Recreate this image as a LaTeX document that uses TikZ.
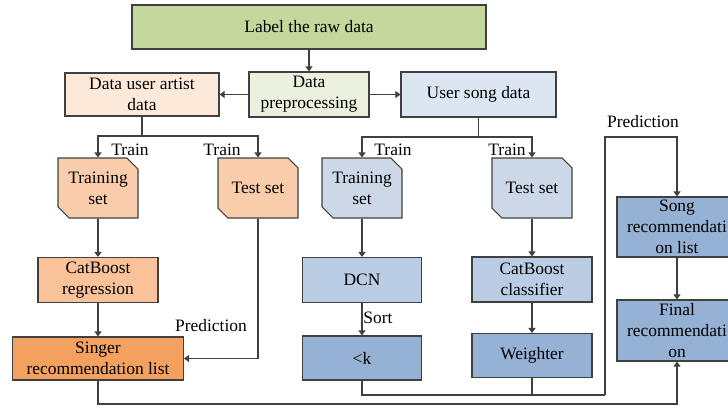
\documentclass[tikz,border=0pt]{standalone}
\usepackage{fontspec}
\setmainfont{Liberation Serif}
\newfontfamily\flowfont{Liberation Serif}
\usepackage{xcolor}
\usetikzlibrary{arrows.meta, positioning, shapes.misc, calc}
\definecolor{rawgreen}{HTML}{C4D79C}
\definecolor{prepgreen}{HTML}{EBF1DE}
\definecolor{artistpeach}{HTML}{FDE9D9}
\definecolor{setpeach}{HTML}{F9CDAB}
\definecolor{regorange}{HTML}{F9C298}
\definecolor{singerorange}{HTML}{F4A15F}
\definecolor{songpale}{HTML}{DCE6F2}
\definecolor{setblue}{HTML}{CCD8E8}
\definecolor{dcnblue}{HTML}{BACDE5}
\definecolor{darkblue}{HTML}{95B1D4}
\definecolor{edgegray}{HTML}{404040}

\begin{document}
\begin{tikzpicture}[x=1bp, y=-1bp,
          every node/.style={font=\flowfont\fontsize{17.5}{21}\selectfont},
          box/.style={draw=edgegray, line width=1.1bp, align=center,
                      inner sep=1bp},
          setbox/.style={box, chamfered rectangle,
                         chamfered rectangle corners={north east, south west},
                         chamfered rectangle xsep=8bp,
                         minimum width=80bp, minimum height=60bp},
          lbl/.style={inner sep=1bp},
          arr/.style={-{Triangle[length=5bp, width=7bp]}, line width=1.1bp, draw=edgegray},
          ln/.style={line width=1.1bp, draw=edgegray},
        ]
        \useasboundingbox (0,0) rectangle (728,407);

        % top of the flow
        \node[box, fill=rawgreen, minimum width=354bp, minimum height=44bp]
              (raw) at (309,27) {Label the raw data};
        \node[box, fill=prepgreen, minimum width=120bp, minimum height=45bp]
              (prep) at (309,94.5) {Data\\preprocessing};
        \node[box, fill=artistpeach, minimum width=154bp, minimum height=43bp]
              (artist) at (142,94.5) {Data user artist\\data};
        \node[box, fill=songpale, minimum width=155bp, minimum height=45bp]
              (song) at (478.5,94.5) {User song data};

        % singer side
        \node[setbox, fill=setpeach] (trainL) at (98,188) {Training\\set};
        \node[setbox, fill=setpeach] (testL) at (258,188) {Test set};
        \node[box, fill=regorange, minimum width=120bp, minimum height=45bp]
              (reg) at (98,280) {CatBoost\\regression};
        \node[box, fill=singerorange, minimum width=171bp, minimum height=43bp]
              (singer) at (98,358.5) {Singer\\recommendation list};

        % song side
        \node[setbox, fill=setblue] (trainR) at (362,188) {Training\\set};
        \node[setbox, fill=setblue] (testR) at (532,188) {Test set};
        \node[box, fill=dcnblue, minimum width=119bp, minimum height=45bp]
              (dcn) at (362,280) {DCN};
        \node[box, fill=darkblue, minimum width=119bp, minimum height=44bp]
              (lessk) at (362,358) {<k};
        \node[box, fill=dcnblue, minimum width=120bp, minimum height=45bp]
              (cls) at (532,279.5) {CatBoost\\classifier};
        \node[box, fill=darkblue, minimum width=120bp, minimum height=44bp]
              (wgt) at (532,355.5) {Weighter};

        % final column
        \node[box, fill=darkblue, minimum width=120bp, minimum height=60bp]
              (songrec) at (677,227) {Song\\recommendati\\on list};
        \node[box, fill=darkblue, minimum width=120bp, minimum height=61bp]
              (final) at (677,330.5) {Final\\recommendati\\on};

        \coordinate (forkL) at (142,136);
        \coordinate (forkR) at (478.5,137);
        \coordinate (joinR) at (605,395);
        \coordinate (predTop) at (605,137);
        \coordinate (bottomL) at (98,404);

        \draw[arr] (raw.south) -- (prep.north);
        \draw[arr] (prep.west) -- (artist.east);
        \draw[arr] (prep.east) -- (song.west);

        \draw[ln] (artist.south) -- (forkL);
        \draw[arr] (forkL) -| (trainL.north);
        \draw[arr] (forkL) -| (testL.north);
        \draw[ln] (song.south) -- (forkR);
        \draw[arr] (forkR) -| (trainR.north);
        \draw[arr] (forkR) -| (testR.north);

        \draw[arr] (trainL.south) -- (reg.north);
        \draw[arr] (reg.south) -- (singer.north);
        \draw[arr] (testL.south) |- (singer.east);

        \draw[arr] (trainR.south) -- (dcn.north);
        \draw[arr] (dcn.south) -- (lessk.north);
        \draw[arr] (testR.south) -- (cls.north);
        \draw[arr] (cls.south) -- (wgt.north);

        \draw[ln] (lessk.south) |- (joinR);
        \draw[ln] (wgt.south) -- (wgt.south |- joinR);
        \draw[arr] (joinR) -- (predTop) -| (songrec.north);
        \draw[arr] (songrec.south) -- (final.north);
        \draw[arr] (singer.south) -- (bottomL) -| (final.south);

        % edge labels
        \node[lbl] (trainLa) at (130,150) {Train};
        \node[lbl] (trainLb) at (222,150) {Train};
        \node[lbl] (trainRa) at (393,150) {Train};
        \node[lbl] (trainRb) at (507,150) {Train};
        \node[lbl] (predL) at (211,326) {Prediction};
        \node[lbl] (sortlbl) at (378,318) {Sort};
        \node[lbl] (predR) at (643,122) {Prediction};
      \end{tikzpicture}
\end{document}
